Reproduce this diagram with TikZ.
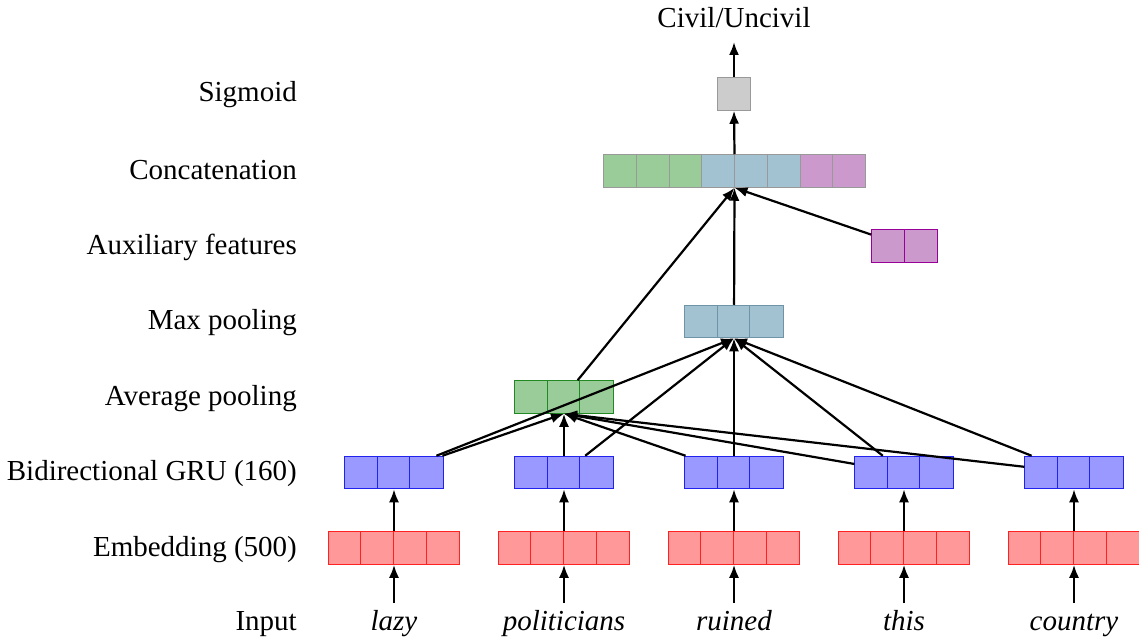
\documentclass[tikz,border=0pt]{standalone}
\usepackage{fontspec}
\setmainfont{Liberation Serif}
\usetikzlibrary{arrows.meta,calc}
\definecolor{embfill}{HTML}{FF9999}
\definecolor{embdraw}{HTML}{FF2222}
\definecolor{grufill}{HTML}{9999FF}
\definecolor{grudraw}{HTML}{2222EE}
\definecolor{avgfill}{HTML}{99CC99}
\definecolor{avgdraw}{HTML}{228822}
\definecolor{maxfill}{HTML}{A2C1D1}
\definecolor{maxdraw}{HTML}{6E94A8}
\definecolor{auxfill}{HTML}{CC99CC}
\definecolor{auxdraw}{HTML}{990099}
\definecolor{sigfill}{HTML}{CCCCCC}
\definecolor{sigdraw}{HTML}{999999}
\newcommand{\mkbox}[6]{% name, x, y, n, fill, draw
  \node[boxbase, fill=#5, draw=#6, minimum width=#4*32.75pt] (#1) at (#2,#3) {};
  \pgfmathtruncatemacro\nn{#4-1}
  \foreach \k in {1,...,\nn}{
    \draw[draw=#6, line width=1pt] ($(#1.north west)+(\k*32.75,0)$) -- ($(#1.south west)+(\k*32.75,0)$);
  }
}
\begin{document}
\begin{tikzpicture}[x=1pt,y=-1pt,
  font=\fontsize{29}{34}\selectfont,
  boxbase/.style={rectangle, inner sep=0pt, minimum height=32.5pt, line width=1pt},
  conn/.style={line width=2.2pt, -{Latex[length=13pt,width=10pt]}},
  rowlabel/.style={anchor=base east, inner sep=0pt},
  word/.style={anchor=base, font=\fontsize{29}{34}\selectfont\itshape, inner sep=0pt}
]
\useasboundingbox (0,0) rectangle (1139,639);

% row labels
\node[rowlabel] (lIn)   at (297,630) {Input};
\node[rowlabel] (lEmb)  at (297,556) {Embedding (500)};
\node[rowlabel] (lGru)  at (297,480.5) {Bidirectional GRU (160)};
\node[rowlabel] (lAvg)  at (297,405) {Average pooling};
\node[rowlabel] (lMax)  at (297,329.5) {Max pooling};
\node[rowlabel] (lAux)  at (297,254) {Auxiliary features};
\node[rowlabel] (lCat)  at (297,179) {Concatenation};
\node[rowlabel] (lSig)  at (297,102) {Sigmoid};

% words
\node[word] (w1) at (394,630) {lazy};
\node[word] (w2) at (564,630) {politicians};
\node[word] (w3) at (734,630) {ruined};
\node[word] (w4) at (904,630) {this};
\node[word] (w5) at (1074,630) {country};

% embedding and GRU boxes
\foreach \i/\x in {1/394,2/564,3/734,4/904,5/1074}{
  \mkbox{e\i}{\x}{548}{4}{embfill}{embdraw}
  \mkbox{g\i}{\x}{472.5}{3}{grufill}{grudraw}
}
\mkbox{avg}{564}{397}{3}{avgfill}{avgdraw}
\mkbox{max}{734}{321.5}{3}{maxfill}{maxdraw}
\mkbox{aux}{904.5}{246}{2}{auxfill}{auxdraw}

% concatenation
\foreach \k/\c in {0/avgfill,1/avgfill,2/avgfill,3/maxfill,4/maxfill,5/maxfill,6/auxfill,7/auxfill}{
  \path[fill=\c, draw=sigdraw, line width=1pt] (603.5+\k*32.75,154.75) rectangle ++(32.75,32.5);
}
\node[boxbase, draw=sigdraw, minimum width=262pt] (cat) at (734.5,171) {};

% sigmoid
\node[boxbase, fill=sigfill, draw=sigdraw, minimum width=32.5pt] (sig) at (734,94) {};

% output
\node[anchor=base, inner sep=0pt] (out) at (734,28) {Civil/Uncivil};

% connectors
\foreach \i in {1,...,5}{
  \draw[conn] ($(w\i.base)+(0,-27)$) -- (e\i.south);
  \draw[conn] (e\i.north) -- (g\i.south);
  \draw[conn] (g\i) -- (avg.south);
  \draw[conn] (g\i) -- (max.south);
}
\draw[conn] (avg) -- (cat.south);
\draw[conn] (max) -- (cat.south);
\draw[conn] (aux) -- (cat.south);
\draw[conn] (cat.north) -- (sig.south);
\draw[conn] (sig.north) -- ($(out.base)+(0,14)$);
\end{tikzpicture}
\end{document}
